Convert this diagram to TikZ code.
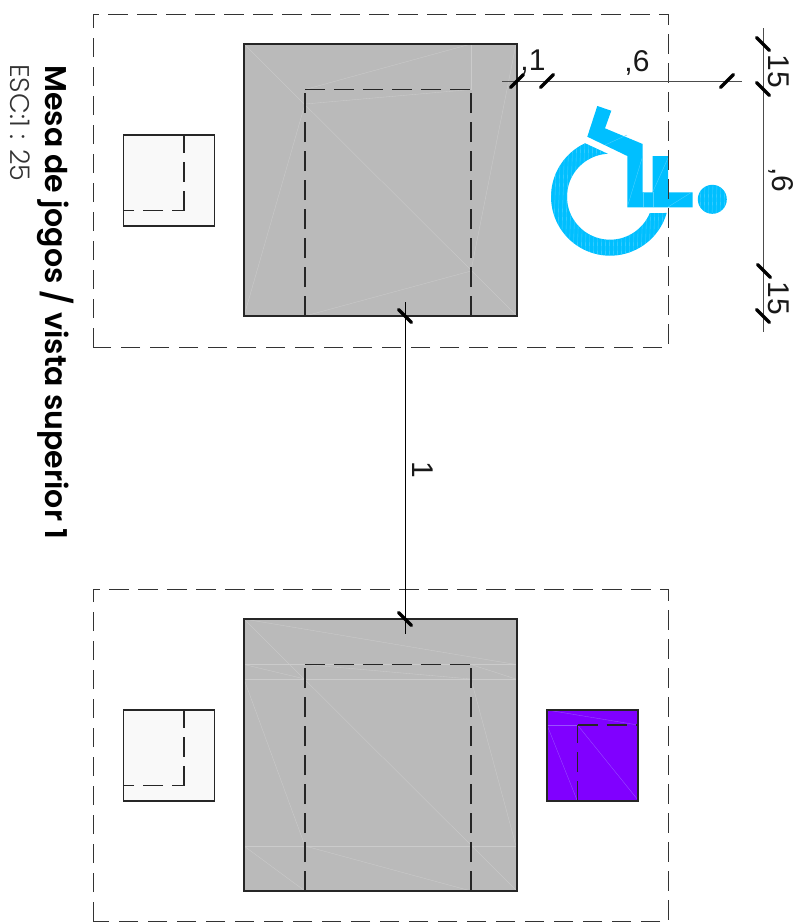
\documentclass[tikz,border=0pt]{standalone}
\usepackage{fontspec}
\setmainfont{Liberation Sans}
\newfontfamily\titlefont{Poppins SemiBold}
\newfontfamily\scalefont{Poppins Light}
\definecolor{tablegrey}{HTML}{BABABA}
\definecolor{paper}{HTML}{F9F9F9}
\definecolor{violet1}{HTML}{8000FF}
\definecolor{sky}{HTML}{00BFFF}
\definecolor{skylt}{HTML}{4FD2FF}
\definecolor{meshl}{HTML}{CBCBCB}
\definecolor{meshp}{HTML}{9A50FF}
\tikzset{
  outline/.style={draw=black!85,line width=1.35pt},
  hidden/.style={draw=black!85,line width=1.1pt,dash pattern=on 20pt off 9pt},
  hiddenb/.style={draw=black!85,line width=1.1pt,dash pattern=on 20pt off 9pt,dash phase=8pt},
  sitebox/.style={draw=black!80,line width=.8pt,dash pattern=on 19.5pt off 9.5pt},
  mesh/.style={draw=meshl,line width=.35pt},
  meshv/.style={draw=meshp,line width=.35pt},
  dimline/.style={draw=black!70,line width=.9pt},
  ticksty/.style={draw=black,line width=3.4pt,line cap=round},
  dimtext/.style={font=\fontsize{30}{30}\selectfont,inner sep=0pt,text=black!90}
}
\newcommand\tickF[1]{\draw[ticksty,shift={(#1)}] (-6.5,6.5) -- (6.5,-6.5);}
\newcommand\tickB[1]{\draw[ticksty,shift={(#1)}] (-6.5,-6.5) -- (6.5,6.5);}
\begin{document}
\begin{tikzpicture}[x=1pt,y=-1pt]
\useasboundingbox (0,0) rectangle (811,922);
% table 1
\fill[tablegrey] (244,44) rectangle (517,316);
\draw[mesh] (244,44) -- (517,316);
\draw[mesh] (471,44) -- (305,89.5);
\draw[mesh] (471,44) -- (471,90);
\draw[mesh] (305,104) -- (471,89.5);
\draw[mesh] (305,104) -- (244,316);
\draw[mesh] (516,44) -- (471,271);
\draw[mesh] (471,271) -- (305,316);
\draw[outline] (244,44) rectangle (517,316);
\draw[hidden] (305,316) -- (305,89.5);
\draw[hidden] (305,89.5) -- (471,89.5);
\draw[hidden] (471,316) -- (471,89.5);
% table 2
\fill[tablegrey] (244,619) rectangle (517,891);
\draw[mesh] (244,619) -- (517,891);
\draw[mesh] (244,619) -- (516,664.5);
\draw[mesh] (244,664.5) -- (517,664.5);
\draw[mesh] (244,679) -- (517,679);
\draw[mesh] (244,664.5) -- (305,679);
\draw[mesh] (305,664.5) -- (471,679);
\draw[mesh] (471,664.5) -- (516,679);
\draw[mesh] (244,679) -- (305,846);
\draw[mesh] (471,679) -- (516,846);
\draw[mesh] (244,846) -- (517,846);
\draw[mesh] (244,846) -- (305,891);
\draw[mesh] (305,846) -- (471,891);
\draw[outline] (244,619) rectangle (517,891);
\draw[hidden] (305,891) -- (305,664.5);
\draw[hidden] (305,664.5) -- (471,664.5);
\draw[hidden] (471,891) -- (471,664.5);
% white stools
\draw[outline,fill=paper] (123.5,135) rectangle (214.5,226);
\draw[hidden] (184,210.5) -- (184,135);
\draw[hiddenb] (184,210.5) -- (123.5,210.5);
\draw[outline,fill=paper] (123.5,710) rectangle (214.5,801);
\draw[hidden] (184,785.5) -- (184,710);
\draw[hiddenb] (184,785.5) -- (123.5,785.5);
% violet stool
\fill[violet1] (547,710) rectangle (638,801);
\draw[meshv] (547,710) -- (638,725);
\draw[meshv] (547,725) -- (577.5,725);
\draw[meshv] (547,725) -- (577,800);
\draw[meshv] (577.5,725) -- (638,800);
\draw[outline] (547,710) rectangle (638,801);
\draw[hidden] (577.5,801) -- (577.5,725);
\draw[hidden] (577.5,725) -- (638,725);
% wheelchair symbol
\begin{scope}
\clip plot[domain=245:16,samples=60] ({610+59*cos(\x)},{196.7+59*sin(\x)})
  -- plot[domain=22.6:267,samples=60] ({610+43*cos(\x)},{196.7+43*sin(\x)}) -- cycle;
\fill[sky] (540,130) rectangle (680,265);
\foreach \i in {0,4,...,136}
  \draw[skylt,line width=.35pt] ({545+\i},130) -- ({541+\i},265);
\end{scope}
\fill[sky] (597.3,106) -- (611.3,110.7) -- (605,128.3) -- (642.7,144) -- (642.7,192.3)
  -- (652.7,192.3) -- (652.7,156) -- (668,156) -- (668,192.3) -- (692.7,192.3)
  -- (692.7,207.3) -- (627.3,207.3) -- (627.3,156) -- (587.3,136.7) -- cycle;
\draw[skylt,line width=.35pt] (605,145) -- (627,135);
\draw[skylt,line width=.35pt] (627.3,207) -- (642.7,156);
\draw[skylt,line width=.35pt] (643,207) -- (643,192);
\draw[skylt,line width=.35pt] (652.7,207) -- (652.7,192);
\draw[skylt,line width=.35pt] (652.7,192) -- (668,158);
\draw[skylt,line width=.35pt] (668,207) -- (692,192);
\begin{scope}
\clip (712.3,199.3) circle (14.5);
\fill[sky] (697,184) rectangle (728,215);
\foreach \i in {0,4,...,32}
  \draw[skylt,line width=.35pt] ({697+\i},184) -- ({696+\i},215);
\end{scope}
% site limits
\draw[sitebox] (93,347) -- (93,14) -- (668,14) -- (668,347) -- (93,347);
\draw[sitebox] (93,921) -- (93,589) -- (668,589) -- (668,921) -- (93,921);
% dimensions
\coordinate (da) at (405,302);
\coordinate (db) at (405,634);
\draw[draw=black,line width=.8pt] (da) -- (db);
\coordinate (t1) at (405,316); \coordinate (t2) at (405,619);
\tickB{t1} \tickB{t2}
\coordinate (ha) at (502,81);
\coordinate (hb) at (742,81);
\draw[dimline] (ha) -- (hb);
\coordinate (h1) at (517,81); \coordinate (h2) at (547,81); \coordinate (h3) at (727,81);
\tickF{h1} \tickF{h2} \tickF{h3}
\coordinate (va) at (763,28);
\coordinate (vb) at (763,332);
\draw[dimline] (va) -- (vb);
\coordinate (v1) at (763,44); \coordinate (v2) at (763,89);
\coordinate (v3) at (764,271); \coordinate (v4) at (763,316);
\tickB{v1} \tickB{v2} \tickB{v3} \tickB{v4}
% labels
\node[dimtext,anchor=base] (l1) at (533,70) {,1};
\node[dimtext,anchor=base] (l2) at (637,71.5) {,6};
\node[dimtext,rotate=-90,anchor=base] (l3) at (768,71) {15};
\node[dimtext,rotate=-90,anchor=base] (l4) at (772,180) {,6};
\node[dimtext,rotate=-90,anchor=base] (l5) at (768,298) {15};
\node[dimtext,rotate=-90,anchor=base] (l6) at (412,470) {1};
\node[rotate=-90,anchor=base west,inner sep=0pt,font=\titlefont\fontsize{30}{30}\selectfont] (title) at (45.5,65) {Mesa de jogos / vista superior 1};
\node[rotate=-90,anchor=base west,inner sep=0pt,font=\scalefont\fontsize{27}{27}\selectfont,text=black!80] (scale) at (10,64) {ESC:1 : 25};
\end{tikzpicture}
\end{document}
